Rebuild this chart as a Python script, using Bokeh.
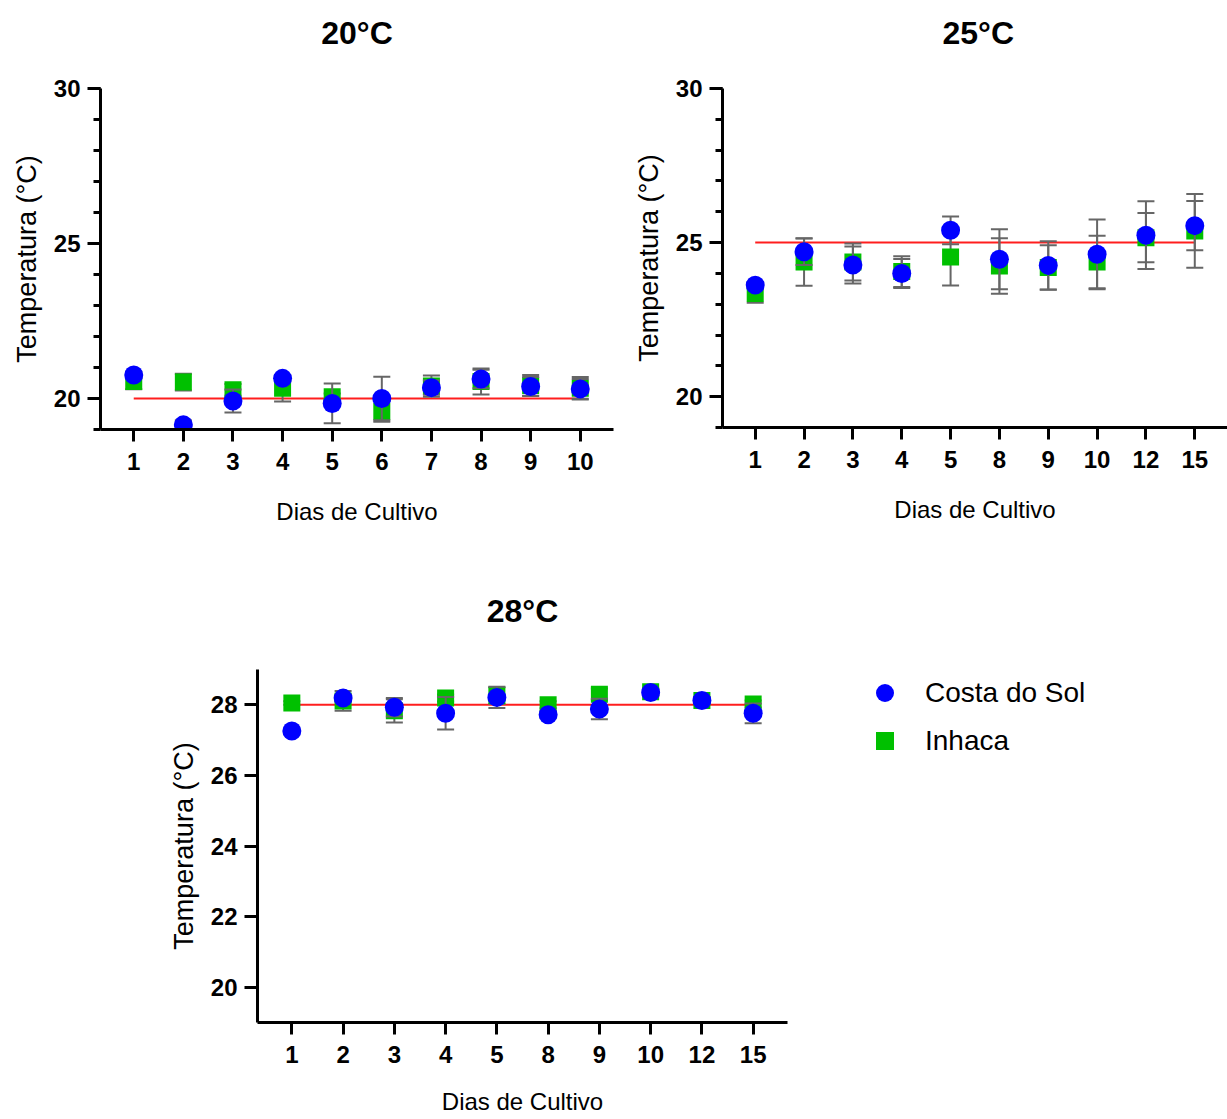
from bokeh.plotting import figure
from bokeh.models import (FactorRange, Range1d, SingleIntervalTicker, Legend,
                          LegendItem, ColumnDataSource, Title)
from bokeh.layouts import column, row
from bokeh.embed import file_html
from bokeh.resources import INLINE

FONT = "Liberation Sans"

# ---------------- data ----------------
days_20 = ["1", "2", "3", "4", "5", "6", "7", "8", "9", "10"]
costa_20 = [20.76, 19.15, 19.92, 20.65, 19.84, 20.00, 20.35, 20.63, 20.39, 20.31]
costa_20_err = [0.10, 0.15, 0.37, 0.10, 0.64, 0.70, 0.23, 0.30, 0.30, 0.32]
inhaca_20 = [20.55, 20.53, 20.28, 20.33, 20.06, 19.58, 20.40, 20.55, 20.42, 20.33]
inhaca_20_err = [0.25, 0.27, 0.19, 0.43, 0.10, 0.33, 0.34, 0.42, 0.34, 0.36]

days_25 = ["1", "2", "3", "4", "5", "8", "9", "10", "12", "15"]
costa_25 = [23.62, 24.70, 24.27, 24.00, 25.40, 24.46, 24.26, 24.62, 25.24, 25.55]
costa_25_err = [0.10, 0.43, 0.60, 0.47, 0.45, 0.97, 0.78, 1.13, 1.10, 0.80]
inhaca_25 = [23.35, 24.37, 24.37, 24.06, 24.53, 24.24, 24.19, 24.37, 25.16, 25.38]
inhaca_25_err = [0.30, 0.77, 0.60, 0.50, 0.92, 0.90, 0.72, 0.85, 0.80, 1.20]

days_28 = ["1", "2", "3", "4", "5", "8", "9", "10", "12", "15"]
costa_28 = [27.26, 28.19, 27.93, 27.76, 28.21, 27.72, 27.88, 28.35, 28.12, 27.76]
costa_28_err = [0.05, 0.10, 0.26, 0.46, 0.30, 0.10, 0.29, 0.10, 0.10, 0.28]
inhaca_28 = [28.05, 28.11, 27.83, 28.19, 28.26, 28.00, 28.30, 28.37, 28.12, 28.02]
inhaca_28_err = [0.05, 0.28, 0.33, 0.10, 0.24, 0.10, 0.16, 0.10, 0.10, 0.10]

titles = ["20°C", "25°C", "28°C"]
ref_temps = [20, 25, 28]
series_names = ["Costa do Sol", "Inhaca"]
x_label = "Dias de Cultivo"
y_label = "Temperatura (°C)"

BLUE = "#0000FF"
GREEN = "#00C000"
GRAY = "#666666"
RED = "#FF1E1E"


def make_panel(title, days, cs, cs_err, inh, inh_err, ref, y0, y1, interval,
               minor, fw, fh, bl, br, bb, title_standoff, spacer_standoff,
               title_align="center", title_offset=0, xlab_standoff=25):
    p = figure(x_range=FactorRange(factors=days, range_padding=0.17,
                                   range_padding_units="absolute"),
               y_range=Range1d(y0, y1), frame_width=fw, frame_height=fh,
               output_backend="svg", toolbar_location=None,
               min_border_left=bl, min_border_right=br, min_border_top=0,
               min_border_bottom=bb)
    p.outline_line_color = None
    p.xgrid.visible = False
    p.ygrid.visible = False

    # spacer (innermost) then the visible title (outermost)
    spacer = Title(text=" ", text_font_size="1px", standoff=spacer_standoff)
    p.add_layout(spacer, "above")
    t = Title(text=title, align=title_align, offset=title_offset,
              text_font=FONT, text_font_size="32px", text_font_style="bold",
              text_color="black", standoff=title_standoff)
    p.add_layout(t, "above")

    # reference line from first to last day
    p.line(x=[days[0], days[-1]], y=[ref, ref], line_color=RED, line_width=2)

    renderers = []
    for vals, errs, color, marker, size in [(inh, inh_err, GREEN, "square", 17),
                                            (cs, cs_err, BLUE, "circle", 19)]:
        src = ColumnDataSource(dict(
            x=days, y=vals,
            lo=[v - e for v, e in zip(vals, errs)],
            hi=[v + e for v, e in zip(vals, errs)]))
        p.segment(x0="x", y0="lo", x1="x", y1="hi", source=src,
                  line_color=GRAY, line_width=2)
        p.scatter(x="x", y="lo", source=src, marker="dash", size=17,
                  line_color=GRAY, line_width=2)
        p.scatter(x="x", y="hi", source=src, marker="dash", size=17,
                  line_color=GRAY, line_width=2)
        r = p.scatter(x="x", y="y", source=src, marker=marker, size=size,
                      fill_color=color, line_color=None)
        renderers.append(r)

    for ax in (p.xaxis, p.yaxis):
        ax.axis_line_width = 3
        ax.axis_line_color = "black"
        ax.major_tick_line_width = 3
        ax.major_tick_line_color = "black"
        ax.minor_tick_line_width = 3
        ax.minor_tick_line_color = "black"
        ax.major_tick_in = 0
        ax.minor_tick_in = 0
        ax.major_label_text_font = FONT
        ax.major_label_text_font_size = "24px"
        ax.major_label_text_font_style = "bold"
        ax.major_label_text_color = "black"
        ax.axis_label_text_font = FONT
        ax.axis_label_text_font_style = "normal"
        ax.axis_label_text_color = "black"

    p.xaxis.major_tick_out = 12
    p.xaxis.major_label_standoff = 11
    p.xaxis.axis_label = x_label
    p.xaxis.axis_label_text_font_size = "24px"
    p.xaxis.axis_label_standoff = xlab_standoff

    p.yaxis.ticker = SingleIntervalTicker(interval=interval, num_minor_ticks=minor)
    p.yaxis.major_tick_out = 13
    p.yaxis.minor_tick_out = 7
    p.yaxis.major_label_standoff = 7
    p.yaxis.axis_label = y_label
    p.yaxis.axis_label_text_font_size = "27px"
    p.yaxis.axis_label_standoff = 9
    return p, renderers


p1, _ = make_panel(titles[0], days_20, costa_20, costa_20_err, inhaca_20,
                   inhaca_20_err, ref_temps[0], 19, 30, 5, 5,
                   fw=513, fh=341, bl=100, br=17, bb=127,
                   title_standoff=17, spacer_standoff=26)
p2, _ = make_panel(titles[1], days_25, costa_25, costa_25_err, inhaca_25,
                   inhaca_25_err, ref_temps[1], 19, 30, 5, 5,
                   fw=505, fh=339, bl=87, br=0, bb=127,
                   title_standoff=25, spacer_standoff=22,
                   title_align="left", title_offset=220)
p3, rs = make_panel(titles[2], days_28, costa_28, costa_28_err, inhaca_28,
                    inhaca_28_err, ref_temps[2], 19, 29, 2, 0,
                    fw=530, fh=353, bl=257, br=0, bb=96,
                    title_standoff=73, spacer_standoff=1, xlab_standoff=22)

legend = Legend(items=[LegendItem(label=series_names[0], renderers=[rs[1]]),
                       LegendItem(label=series_names[1], renderers=[rs[0]])],
                location=(75, 259), padding=0, margin=0, spacing=3,
                glyph_width=45, glyph_height=45, label_height=45,
                label_standoff=18, border_line_color=None,
                background_fill_alpha=0, label_text_font=FONT,
                label_text_font_size="28px", label_text_color="black")
p3.add_layout(legend, "right")

layout = column(row(p1, p2), row(p3))
open("out.html", "w").write(file_html(layout, INLINE))
